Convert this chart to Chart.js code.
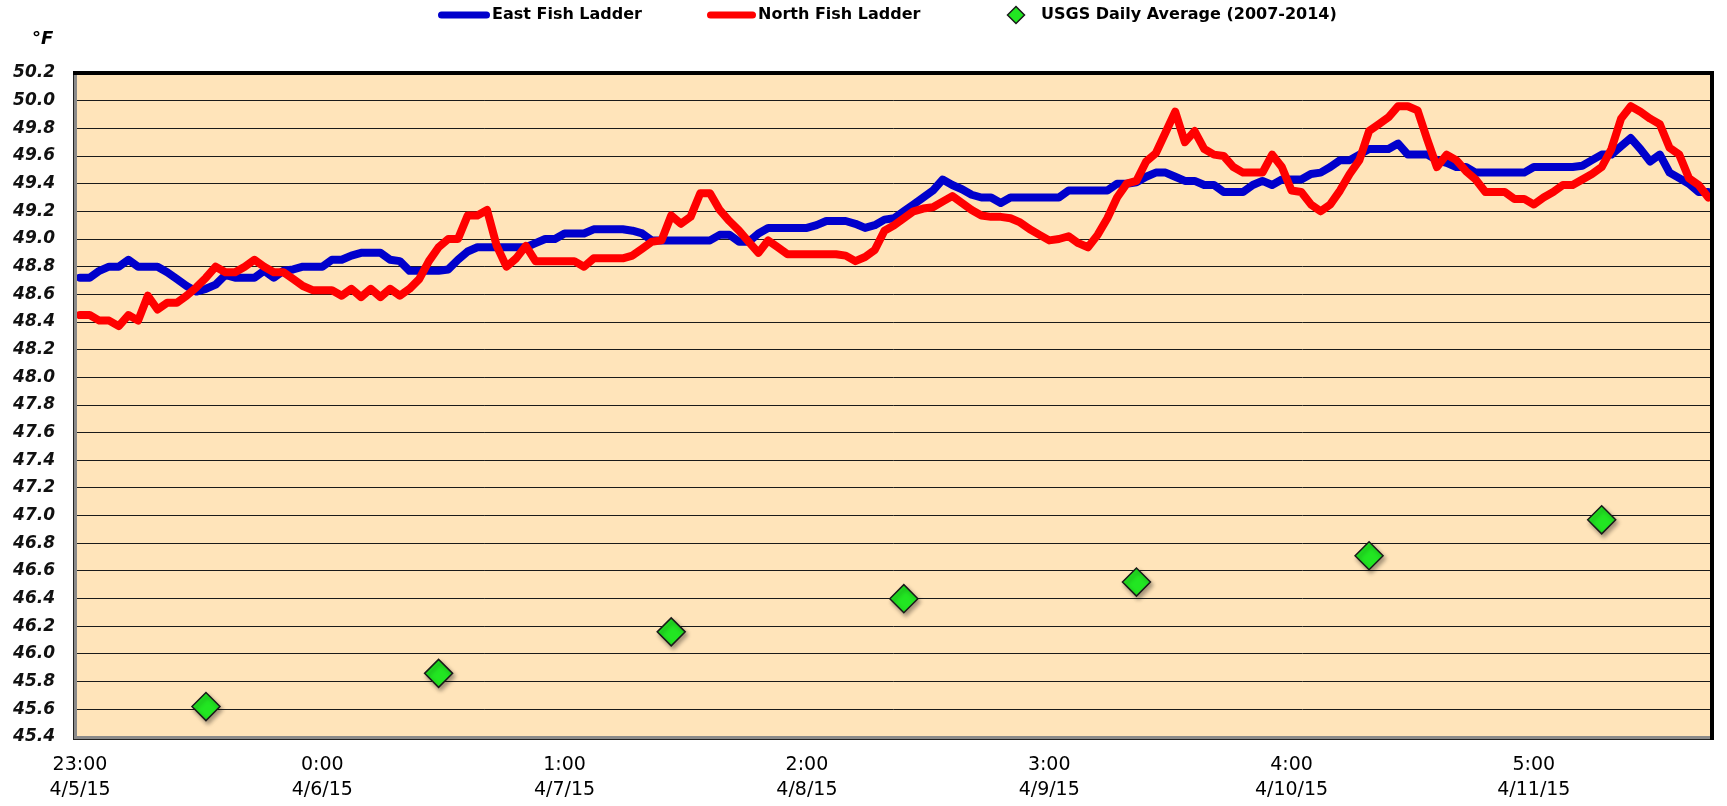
<!DOCTYPE html>
<html><head><meta charset="utf-8">
<script src="https://cdn.jsdelivr.net/npm/chart.js@4.4.1/dist/chart.umd.min.js"></script>
<style>html,body{margin:0;padding:0;background:#fff;overflow:hidden;}#wrap{width:1727px;height:806px;}canvas{display:block;}</style>
</head><body>
<div id="wrap"><canvas id="c" width="1727" height="806"></canvas></div>
<script>
// ---- data (hourly readings, index 0 = 23:00 4/5/15) ----
const EAST = [
48.72,48.72,48.77,48.80,48.80,48.85,48.80,48.80,48.80,48.76,
48.71,48.66,48.62,48.64,48.67,48.74,48.72,48.72,48.72,48.77,
48.72,48.77,48.78,48.80,48.80,48.80,48.85,48.85,48.88,48.90,
48.90,48.90,48.85,48.84,48.77,48.77,48.77,48.77,48.78,48.85,
48.91,48.94,48.94,48.94,48.94,48.94,48.94,48.97,49.00,49.00,
49.04,49.04,49.04,49.07,49.07,49.07,49.07,49.06,49.04,48.99,
48.99,48.99,48.99,48.99,48.99,48.99,49.03,49.03,48.98,48.98,
49.04,49.08,49.08,49.08,49.08,49.08,49.10,49.13,49.13,49.13,
49.11,49.08,49.10,49.14,49.15,49.20,49.25,49.30,49.35,49.43,
49.39,49.36,49.32,49.30,49.30,49.26,49.30,49.30,49.30,49.30,
49.30,49.30,49.35,49.35,49.35,49.35,49.35,49.40,49.40,49.41,
49.45,49.48,49.48,49.45,49.42,49.42,49.39,49.39,49.34,49.34,
49.34,49.39,49.42,49.39,49.43,49.43,49.43,49.47,49.48,49.52,
49.57,49.57,49.61,49.65,49.65,49.65,49.69,49.61,49.61,49.61,
49.57,49.55,49.52,49.52,49.48,49.48,49.48,49.48,49.48,49.48,
49.52,49.52,49.52,49.52,49.52,49.53,49.57,49.61,49.61,49.67,
49.73,49.65,49.56,49.61,49.48,49.44,49.40,49.34,49.34];
const NORTH = [
48.45,48.45,48.41,48.41,48.37,48.45,48.41,48.59,48.49,48.54,
48.54,48.59,48.65,48.72,48.80,48.76,48.76,48.80,48.85,48.80,
48.76,48.76,48.71,48.66,48.63,48.63,48.63,48.59,48.64,48.58,
48.64,48.58,48.64,48.59,48.64,48.71,48.84,48.94,49.00,49.00,
49.17,49.17,49.21,48.95,48.80,48.86,48.95,48.84,48.84,48.84,
48.84,48.84,48.80,48.86,48.86,48.86,48.86,48.88,48.93,48.98,
48.99,49.17,49.11,49.16,49.33,49.33,49.21,49.13,49.06,48.98,
48.90,48.99,48.94,48.89,48.89,48.89,48.89,48.89,48.89,48.88,
48.84,48.87,48.92,49.06,49.10,49.15,49.20,49.22,49.23,49.27,
49.31,49.26,49.21,49.17,49.16,49.16,49.15,49.12,49.07,49.03,
48.99,49.00,49.02,48.97,48.94,49.03,49.15,49.30,49.40,49.42,
49.56,49.62,49.77,49.92,49.70,49.78,49.65,49.61,49.60,49.52,
49.48,49.48,49.48,49.61,49.52,49.35,49.34,49.25,49.20,49.25,
49.35,49.47,49.57,49.78,49.83,49.88,49.96,49.96,49.93,49.72,
49.52,49.61,49.57,49.49,49.43,49.34,49.34,49.34,49.29,49.29,
49.25,49.30,49.34,49.39,49.39,49.43,49.47,49.52,49.65,49.87,
49.96,49.92,49.87,49.83,49.66,49.61,49.44,49.39,49.30];
const USGS_X = [13, 37, 61, 85, 109, 133, 157];
const USGS_Y = [45.62, 45.86, 46.16, 46.40, 46.52, 46.71, 46.97];
const TICK_TIMES = ['23:00','0:00','1:00','2:00','3:00','4:00','5:00'];
const TICK_DATES = ['4/5/15','4/6/15','4/7/15','4/8/15','4/9/15','4/10/15','4/11/15'];
const SERIES_NAMES = ['East Fish Ladder','North Fish Ladder','USGS Daily Average (2007-2014)'];
const Y_UNIT = '\u00B0F';

// ---- axis settings ----
const Y_MIN = 45.4, Y_MAX = 50.2, Y_STEP = 0.2;
const X_MIN = -0.41, X_MAX = 168.33, TICK_STEP = 25;

// ---- styles ----
const EAST_COLOR = '#0000CC', NORTH_COLOR = '#FF0000';
const USGS_FILL = '#22E622', USGS_EDGE = '#1a1a1a';
const PLOT_BG = '#FFE4BA';

const decor = {
  id: 'decor',
  beforeDraw(chart) {
    const {ctx, chartArea: a} = chart;
    ctx.save();
    ctx.fillStyle = '#fff';
    ctx.fillRect(0, 0, chart.width, chart.height);
    ctx.fillStyle = PLOT_BG;
    ctx.fillRect(a.left, a.top, a.right - a.left, a.bottom - a.top);
    ctx.restore();
  },
  beforeDatasetDraw(chart, args) {
    if (args.index === 2) {
      const ctx = chart.ctx;
      ctx.save();
      ctx.shadowColor = 'rgba(0,0,0,0.35)';
      ctx.shadowBlur = 4;
      ctx.shadowOffsetX = 2;
      ctx.shadowOffsetY = 3;
    }
  },
  afterDatasetDraw(chart, args) {
    if (args.index === 2) chart.ctx.restore();
  },
  afterDatasetsDraw(chart) {
    const {ctx, chartArea: a} = chart;
    const L = Math.round(a.left), T = Math.round(a.top), R = Math.round(a.right), B = Math.round(a.bottom);
    ctx.save();
    ctx.fillStyle = '#8a8a8a';
    ctx.fillRect(L - 2, T, 3, B - T + 2);
    ctx.fillRect(L - 2, B - 1, R - L + 2, 3);
    ctx.fillStyle = '#222';
    ctx.fillRect(L - 3, T, 1, B - T + 3);
    ctx.fillRect(L - 3, B + 2, R - L + 5, 1);
    ctx.fillStyle = '#000';
    ctx.fillRect(L - 3, T - 2, R - L + 5, 4);
    ctx.fillRect(R - 2, T - 2, 4, B - T + 5);
    ctx.restore();
  },
  afterDraw(chart) {
    const ctx = chart.ctx;
    const ds = chart.data.datasets;
    ctx.save();
    ctx.fillStyle = '#000';
    ctx.font = 'italic bold 18px "DejaVu Sans"';
    ctx.textAlign = 'left';
    ctx.textBaseline = 'middle';
    ctx.fillText(Y_UNIT, 32, 39);
    const LY = 15;
    ctx.font = 'bold 16px "DejaVu Sans"';
    ctx.lineCap = 'round';
    ctx.lineWidth = 7;
    ctx.strokeStyle = ds[0].borderColor;
    ctx.beginPath(); ctx.moveTo(441.5, LY); ctx.lineTo(486.5, LY); ctx.stroke();
    ctx.fillText(ds[0].label, 492, LY);
    ctx.strokeStyle = ds[1].borderColor;
    ctx.beginPath(); ctx.moveTo(710.5, LY); ctx.lineTo(752.5, LY); ctx.stroke();
    ctx.fillText(ds[1].label, 758, LY);
    const dx = 1016, r = 8.5;
    ctx.beginPath();
    ctx.moveTo(dx - r, LY); ctx.lineTo(dx, LY - r); ctx.lineTo(dx + r, LY); ctx.lineTo(dx, LY + r); ctx.closePath();
    ctx.fillStyle = USGS_FILL; ctx.fill();
    ctx.lineWidth = 1.5; ctx.strokeStyle = USGS_EDGE; ctx.stroke();
    ctx.fillStyle = '#000';
    ctx.fillText(ds[2].label, 1041, LY);
    ctx.restore();
  }
};

new Chart(document.getElementById('c'), {
  type: 'line',
  data: {
    datasets: [
      { label: SERIES_NAMES[0], data: EAST.map((y, i) => ({x: i, y})),
        borderColor: EAST_COLOR, backgroundColor: EAST_COLOR, borderWidth: 8,
        pointRadius: 0, tension: 0, borderJoinStyle: 'round', borderCapStyle: 'round',
        order: 2, clip: 0 },
      { label: SERIES_NAMES[1], data: NORTH.map((y, i) => ({x: i, y})),
        borderColor: NORTH_COLOR, backgroundColor: NORTH_COLOR, borderWidth: 8,
        pointRadius: 0, tension: 0, borderJoinStyle: 'round', borderCapStyle: 'round',
        order: 1, clip: 0 },
      { label: SERIES_NAMES[2], data: USGS_X.map((x, k) => ({x, y: USGS_Y[k]})),
        showLine: false, pointStyle: 'rectRot', pointRadius: 14, pointHoverRadius: 14,
        pointBackgroundColor: USGS_FILL, pointBorderColor: USGS_EDGE, pointBorderWidth: 1.5,
        borderColor: USGS_EDGE, backgroundColor: USGS_FILL, order: 0, clip: false }
    ]
  },
  options: {
    responsive: false,
    animation: false,
    devicePixelRatio: 1,
    layout: { padding: { top: 73, right: 4, bottom: 0, left: 0 } },
    plugins: { legend: { display: false }, tooltip: { enabled: false }, title: { display: false } },
    scales: {
      x: {
        type: 'linear', min: X_MIN, max: X_MAX,
        grid: { display: false, drawTicks: false },
        border: { display: false },
        afterBuildTicks: (s) => { s.ticks = TICK_TIMES.map((_, k) => ({ value: k * TICK_STEP })); },
        afterFit: (s) => { s.height = 69; },
        ticks: {
          autoSkip: false, maxRotation: 0, minRotation: 0, padding: 16,
          color: '#000',
          font: { family: 'DejaVu Sans', size: 19, lineHeight: 1.29 },
          callback: (v, i) => [TICK_TIMES[i], TICK_DATES[i]]
        }
      },
      y: {
        type: 'linear', min: Y_MIN, max: Y_MAX,
        grid: { color: '#1a1a1a', lineWidth: 1, drawTicks: false },
        border: { display: false },
        afterFit: (s) => { s.width = 76; },
        ticks: {
          stepSize: Y_STEP, autoSkip: false, padding: 21, color: '#111',
          font: { family: 'DejaVu Sans', size: 17, weight: 'bold', style: 'italic' },
          callback: (v) => Number(v).toFixed(1)
        }
      }
    }
  },
  plugins: [decor]
});
</script>
</body></html>
